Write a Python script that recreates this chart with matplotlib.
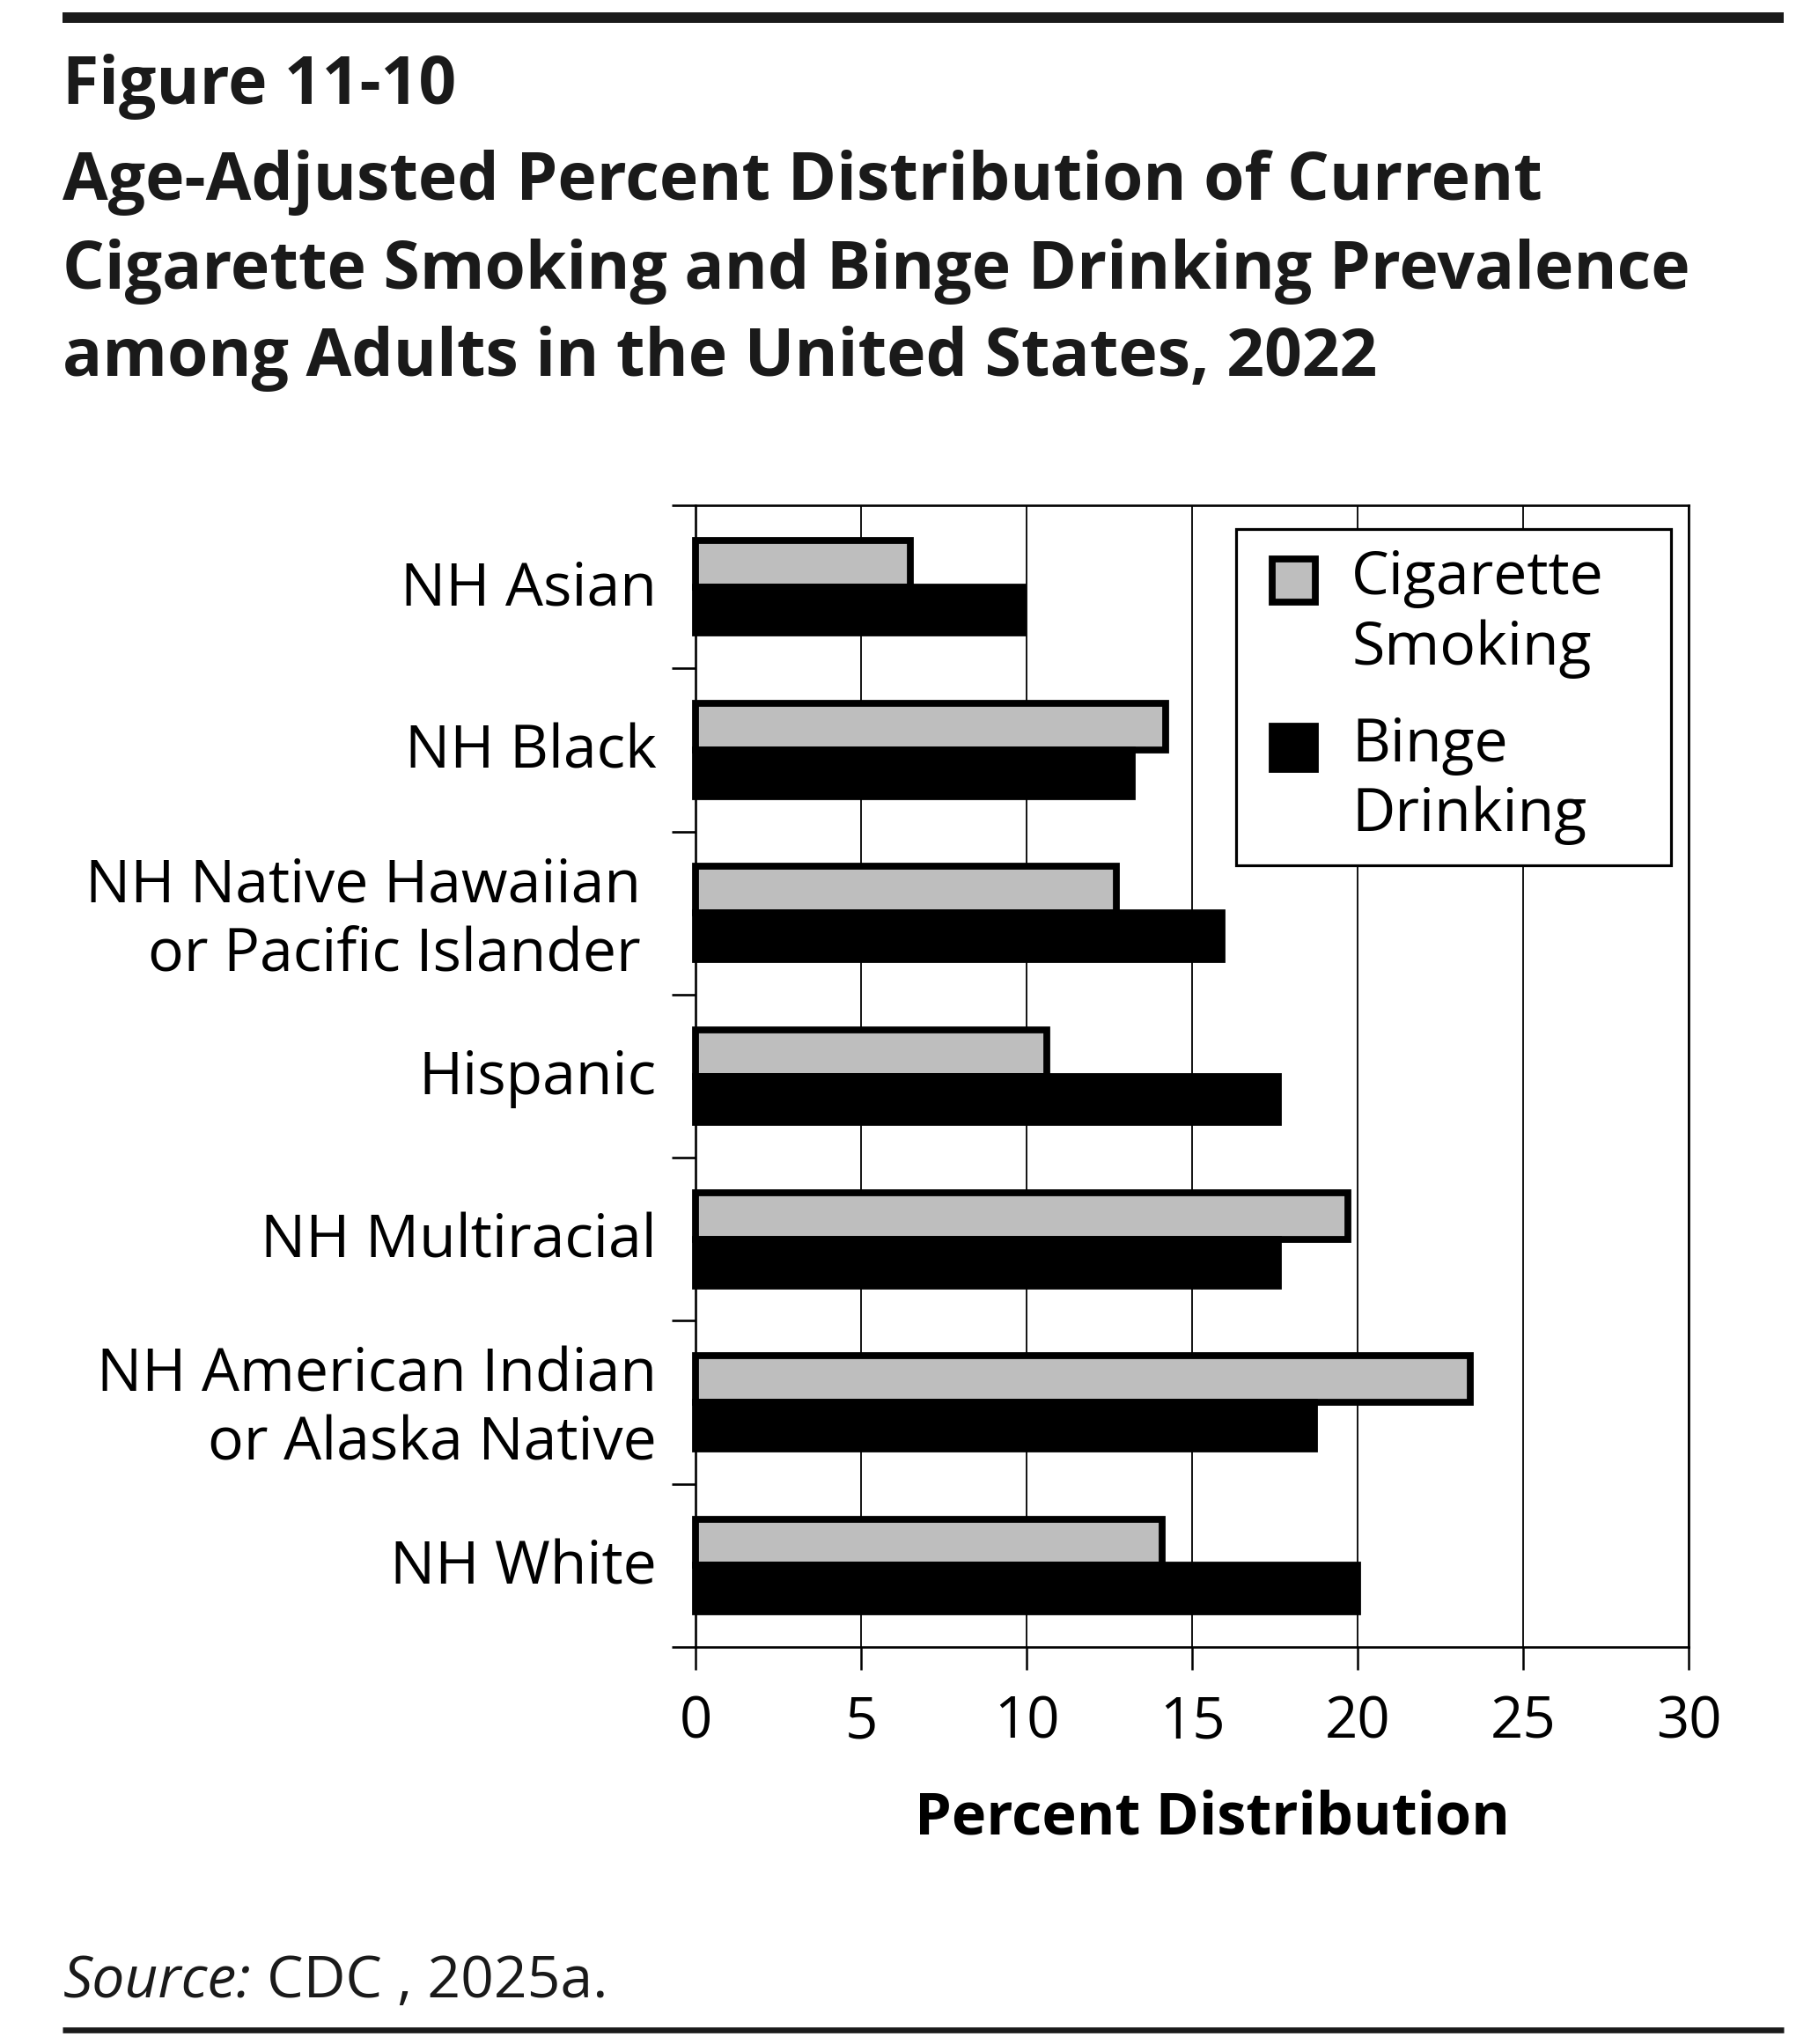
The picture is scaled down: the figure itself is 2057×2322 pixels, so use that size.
import matplotlib
matplotlib.use("Agg")
import matplotlib.pyplot as plt
from matplotlib.lines import Line2D
from matplotlib.patches import Patch, Rectangle
from matplotlib.legend_handler import HandlerPatch
from matplotlib.transforms import ScaledTranslation
import numpy as np

# ---------------- data ----------------
categories = ["NH Asian", "NH Black", "NH Native Hawaiian \nor Pacific Islander ",
              "Hispanic", "NH Multiracial", "NH American Indian\nor Alaska Native", "NH White"]
cigarette_smoking = [6.5, 14.2, 12.7, 10.6, 19.7, 23.4, 14.1]
binge_drinking = [9.9, 13.2, 15.9, 17.6, 17.6, 18.7, 20.0]
series_labels = ["Cigarette\nSmoking", "Binge\nDrinking"]
x_ticks = [0, 5, 10, 15, 20, 25, 30]
title_lines = ["Figure 11-10",
               "Age-Adjusted Percent Distribution of Current",
               "Cigarette Smoking and Binge Drinking Prevalence",
               "among Adults in the United States, 2022"]
x_label = "Percent Distribution"
source_italic = "Source:"
source_rest = " CDC , 2025a."

# ---------------- layout ----------------
W, H = 2057, 2322
DPI = 100
FONT = ["Open Sans", "DejaVu Sans"]
plt.rcParams["font.family"] = FONT

fig = plt.figure(figsize=(W / DPI, H / DPI), dpi=DPI)
fig.patch.set_facecolor("white")

def fx(px):
    return px / W

def fy(py):
    return 1 - py / H

LABEL_FS = 49
TICK_FS = 47
LEG_FS = 49

# axes box in pixels
ax_l, ax_r, ax_t, ax_b = 790, 1918, 574, 1871
ax = fig.add_axes([fx(ax_l), fy(ax_b), (ax_r - ax_l) / W, (ax_b - ax_t) / H])

y = np.arange(len(categories))
bh = 0.285
EDGE_LW = 5.6
ax.barh(y - bh / 2, cigarette_smoking, height=bh, color="#bebebe",
        edgecolor="black", linewidth=EDGE_LW, clip_on=False, zorder=3,
        label=series_labels[0])
ax.barh(y + bh / 2, binge_drinking, height=bh, color="black",
        edgecolor="black", linewidth=EDGE_LW, clip_on=False, zorder=3,
        label=series_labels[1])

ax.set_xlim(0, 30)
ax.set_ylim(len(categories) - 0.5, -0.5)

# grid
ax.set_xticks(x_ticks)
ax.set_xticklabels([str(t) for t in x_ticks])
ax.xaxis.grid(True, color="black", linewidth=1.3, zorder=0)
ax.set_axisbelow(True)

# y ticks: labels at centres, tick marks at boundaries
ax.set_yticks(y)
ax.set_yticklabels(categories, fontsize=LABEL_FS, linespacing=1.2)
ax.set_yticks(np.arange(-0.5, len(categories), 1.0), minor=True)
ax.tick_params(axis="y", which="major", length=0, pad=32)
ax.tick_params(axis="y", which="minor", length=19.5, width=1.9, direction="out")
ax.tick_params(axis="x", which="major", length=18.5, width=1.8, direction="out",
               labelsize=TICK_FS, pad=20)
lift = ScaledTranslation(0, 3.5 / 72, fig.dpi_scale_trans)
for lab in ax.get_yticklabels():
    lab.set_transform(lab.get_transform() + lift)

for s in ax.spines.values():
    s.set_linewidth(1.9)
    s.set_color("black")

# legend (handles aligned with the first line of each label)
SHIFT_Y = 28.0   # points
SHIFT_X = 13.5   # points
SQUARE = 35.3    # points

def top_aligned_square(legend, orig_handle, xdescent, ydescent, width, height, fontsize):
    return Rectangle((-xdescent + SHIFT_X, -ydescent + SHIFT_Y), SQUARE, SQUARE)

leg_l, leg_r, leg_t = 1404, 1898, 601
handles = [Patch(facecolor="#bebebe", edgecolor="black", linewidth=5.6),
           Patch(facecolor="black", edgecolor="black", linewidth=5.6)]
leg = ax.legend(handles, series_labels, loc="upper left", mode="expand",
                bbox_to_anchor=(fx(leg_l), fy(leg_t) - 0.2, (leg_r - leg_l) / W, 0.2),
                bbox_transform=fig.transFigure,
                fontsize=LEG_FS, frameon=True, fancybox=False, edgecolor="black",
                framealpha=1, borderaxespad=0,
                handlelength=(SHIFT_X + SQUARE) / LEG_FS, handleheight=SQUARE / LEG_FS,
                handletextpad=0.6, labelspacing=0.62, borderpad=0.33,
                handler_map={Patch: HandlerPatch(patch_func=top_aligned_square)})
leg.get_frame().set_linewidth(2.3)
leg.set_zorder(5)
for t in leg.get_texts():
    t.set_linespacing(1.24)

# x label
fig.text(fx(1377), fy(2084), x_label, ha="center", va="baseline",
         fontsize=48, fontweight="bold", color="black")

# title
title_baselines = [118, 227, 328, 427]
for line, b in zip(title_lines, title_baselines):
    fig.text(fx(71), fy(b), line, ha="left", va="baseline", fontsize=54,
             fontweight="bold", color="#1a1a1a")

# rules
fig.add_artist(Line2D([fx(71), fx(2026)], [fy(20), fy(20)], color="#1a1a1a",
                      linewidth=8.6, solid_capstyle="butt"))
fig.add_artist(Line2D([fx(71), fx(2026)], [fy(2306), fy(2306)], color="#1a1a1a",
                      linewidth=4.8, solid_capstyle="butt"))

# source
renderer = fig.canvas.get_renderer()
t1 = fig.text(fx(72), fy(2269), source_italic, ha="left", va="baseline",
              fontsize=47.5, fontstyle="italic", color="#1a1a1a")
bb = t1.get_window_extent(renderer=renderer)
fig.text(bb.x1 / W, fy(2269), source_rest, ha="left", va="baseline",
         fontsize=47.5, color="#1a1a1a")

fig.savefig("out.png", dpi=DPI, facecolor="white")
